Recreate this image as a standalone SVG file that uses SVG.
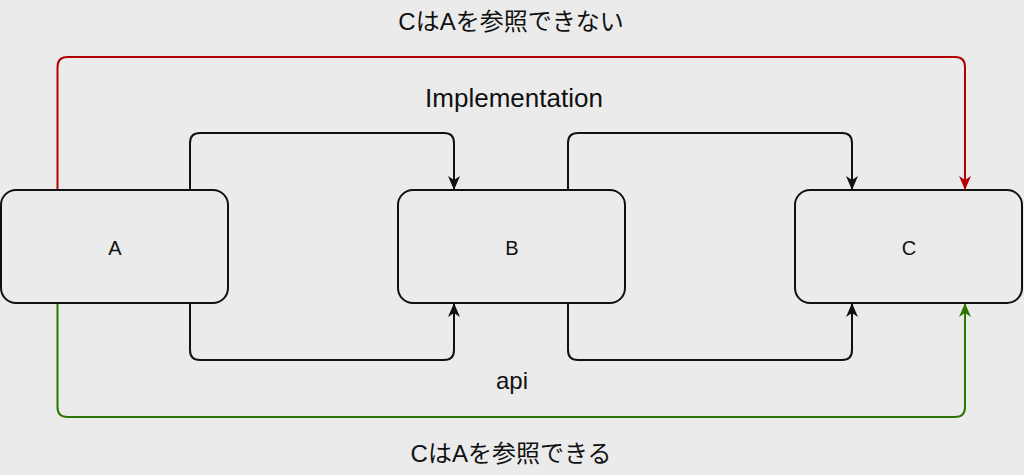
<svg xmlns="http://www.w3.org/2000/svg" width="1024" height="475" viewBox="0 0 1024 475">
<defs>
<style>
.box{fill:#ebebeb;stroke:#111;stroke-width:2}
.c{fill:none;stroke-width:2;stroke-linejoin:round}
.k{stroke:#111}
.r{stroke:#b20000}
.g{stroke:#2d7600}
.lbl{font-family:"Liberation Sans","Noto Sans CJK JP",sans-serif;fill:#111;text-anchor:middle}
</style>
<marker id="ak" viewBox="0 0 14 14" refX="13" refY="7" markerWidth="14" markerHeight="14" markerUnits="userSpaceOnUse" orient="auto"><path d="M0,1 L14,7 L0,13 L4,7 Z" fill="#111"/></marker>
<marker id="ar" viewBox="0 0 14 14" refX="13" refY="7" markerWidth="14" markerHeight="14" markerUnits="userSpaceOnUse" orient="auto"><path d="M0,1 L14,7 L0,13 L4,7 Z" fill="#b20000"/></marker>
<marker id="ag" viewBox="0 0 14 14" refX="13" refY="7" markerWidth="14" markerHeight="14" markerUnits="userSpaceOnUse" orient="auto"><path d="M0,1 L14,7 L0,13 L4,7 Z" fill="#2d7600"/></marker>
</defs>
<rect width="1024" height="475" fill="#ebebeb"/>
<g id="connectors">
<path class="c r" d="M57.5,190 V67 Q57.5,57 67.5,57 H955 Q965,57 965,67 V189" marker-end="url(#ar)"/>
<path class="c g" d="M57.5,303 V407 Q57.5,417 67.5,417 H955 Q965,417 965,407 V304" marker-end="url(#ag)"/>
<path class="c k" d="M190,190 V143 Q190,133 200,133 H444 Q454,133 454,143 V189" marker-end="url(#ak)"/>
<path class="c k" d="M568,190 V143 Q568,133 578,133 H842 Q852,133 852,143 V189" marker-end="url(#ak)"/>
<path class="c k" d="M190,303 V350 Q190,360 200,360 H444 Q454,360 454,350 V304" marker-end="url(#ak)"/>
<path class="c k" d="M568,303 V350 Q568,360 578,360 H842 Q852,360 852,350 V304" marker-end="url(#ak)"/>
</g>
<g id="nodeA"><rect class="box" x="1" y="190" width="227" height="113" rx="15"/><text class="lbl" x="115" y="255" font-size="20">A</text></g>
<g id="nodeB"><rect class="box" x="398" y="190" width="227" height="113" rx="15"/><text class="lbl" x="512" y="255" font-size="20">B</text></g>
<g id="nodeC"><rect class="box" x="795" y="190" width="227" height="113" rx="15"/><text class="lbl" x="909" y="255" font-size="20">C</text></g>
<g id="labels">
<text class="lbl" x="511" y="30" font-size="24">CはAを参照できない</text>
<text class="lbl" x="514" y="107" font-size="26">Implementation</text>
<text class="lbl" x="512" y="389" font-size="24">api</text>
<text class="lbl" x="511" y="462" font-size="24">CはAを参照できる</text>
</g>
</svg>
